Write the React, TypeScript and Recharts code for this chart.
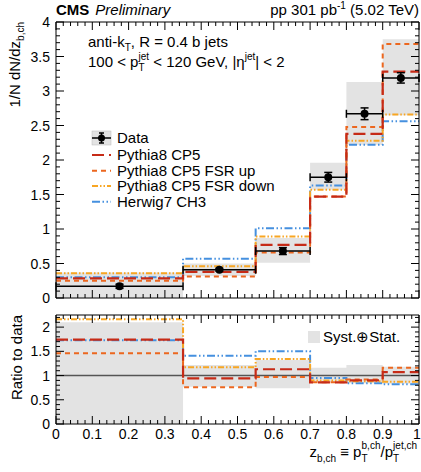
import React from 'react';
import { ComposedChart, Line, Area, Scatter, XAxis, YAxis, ErrorBar, ReferenceLine } from 'recharts';

// ---------- data ----------
const binEdges = [0, 0.35, 0.55, 0.7, 0.8, 0.9, 1.0];
const dataValues = [0.17, 0.41, 0.68, 1.75, 2.67, 3.19];
const dataStatErr = [0.03, 0.02, 0.05, 0.07, 0.085, 0.075];
const systLow = [0.0, 0.32, 0.51, 1.57, 2.22, 2.65];
const systHigh = [0.37, 0.5, 0.87, 1.96, 3.13, 3.75];
const pythiaCP5 = [0.285, 0.38, 0.77, 1.47, 2.38, 3.28];
const fsrUp = [0.25, 0.31, 0.66, 1.47, 2.48, 3.68];
const fsrDown = [0.36, 0.46, 0.89, 1.57, 2.28, 2.66];
const herwigCH3 = [0.3, 0.57, 1.01, 1.63, 2.22, 2.56];

const ratioSystLow = [0, 0.77, 0.74, 0.87, 0.84, 0.83];
const ratioSystHigh = [2.1, 1.22, 1.32, 1.16, 1.22, 1.18];
const ratioPythia = [1.74, 0.94, 1.13, 0.86, 0.9, 1.07];
const ratioFsrUp = [1.46, 0.76, 0.97, 0.86, 0.92, 1.16];
const ratioFsrDown = [2.16, 1.17, 1.34, 0.9, 0.88, 0.87];
const ratioHerwig = [1.73, 1.41, 1.5, 0.95, 0.84, 0.82];

const xTickLabels = ['0', '0.1', '0.2', '0.3', '0.4', '0.5', '0.6', '0.7', '0.8', '0.9', '1'];
const yTickLabels = ['0', '0.5', '1', '1.5', '2', '2.5', '3', '3.5', '4'];
const ratioTickLabels = ['0', '0.5', '1', '1.5', '2'];

// ---------- geometry / styles ----------
const W = 421;
const PL = 56; // plot left
const PR = 419; // plot right
const TT = 22; // top panel top
const TB = 298; // top panel bottom
const TOP_H = 312;
const RT = 315; // ratio panel top
const RB = 424; // ratio panel bottom
const R_OFF = 300;
const TOP_DOM = [0, 4];
const R_DOM = [0, 2.25];

const FONT = 'Liberation Sans, Arial, Helvetica, sans-serif';
const C_PY = '#c62b17';
const C_UP = '#ec671f';
const C_DN = '#f8a623';
const C_HW = '#4590df';
const C_BAND = '#e3e3e3';
const D_PY = '12 5';
const D_UP = '5 4';
const D_DN = '6 2 1.5 2 1.5 2';
const D_HW = '8 2.5 1.5 2.5 1.5 2.5';

// ---------- tables ----------
const last = binEdges.length - 2;
const histTop = binEdges.map((x, i) => {
  const k = Math.min(i, last);
  return { x, band: [systLow[k], systHigh[k]], py: pythiaCP5[k], up: fsrUp[k], dn: fsrDown[k], hw: herwigCH3[k] };
});
const histRatio = binEdges.map((x, i) => {
  const k = Math.min(i, last);
  return { x, band: [ratioSystLow[k], ratioSystHigh[k]], py: ratioPythia[k], up: ratioFsrUp[k], dn: ratioFsrDown[k], hw: ratioHerwig[k] };
});
const points = dataValues.map((y, i) => ({
  x: (binEdges[i] + binEdges[i + 1]) / 2,
  y,
  ex: (binEdges[i + 1] - binEdges[i]) / 2,
  ey: dataStatErr[i],
}));

const mk = (n: number, step: number) => {
  const a: number[] = [];
  for (let i = 0; i <= n; i++) a.push(Math.round(i * step * 1000) / 1000);
  return a;
};
const xMinor = mk(50, 0.02);
const xMajor = xTickLabels.map(Number);
const yMinor = mk(40, 0.1);
const yMajor = yTickLabels.map(Number);
const rMinor = mk(22, 0.1);
const rMajor = ratioTickLabels.map(Number);
const isMul = (v: number, s: number) => Math.abs(v / s - Math.round(v / s)) < 1e-6;

const MAJ = 8;
const MIN = 4;

const labelTick = (side: 'bottom' | 'left', labels: string[]) => (props: any) => {
  const x = Number(props.x);
  const y = Number(props.y);
  const v = Number(props.payload.value);
  const l = labels.find((s) => Math.abs(parseFloat(s) - v) < 1e-6);
  if (l === undefined) return <g />;
  if (side === 'bottom')
    return (
      <text x={v === 1 ? x - 2 : x} y={y + 15} textAnchor="middle" fontSize={14} fontFamily={FONT} fill="#000">
        {l}
      </text>
    );
  return (
    <text x={x - 6} y={y + 5} textAnchor="end" fontSize={14} fontFamily={FONT} fill="#000">
      {l}
    </text>
  );
};

// inward tick marks on all four sides of a panel frame (same linear mapping as the axes)
const frameTickPath = (top: number, bottom: number, yDom: number[], yTicks: number[], yStep: number) => {
  const sx = (v: number) => PL + v * (PR - PL);
  const sy = (v: number) => bottom - ((v - yDom[0]) / (yDom[1] - yDom[0])) * (bottom - top);
  let d = '';
  xMinor.forEach((v) => {
    const len = isMul(v, 0.1) ? MAJ : MIN;
    const x = sx(v);
    d += `M${x},${bottom}V${bottom - len}M${x},${top}V${top + len}`;
  });
  yTicks.forEach((v) => {
    const len = isMul(v, yStep) ? MAJ : MIN;
    const y = sy(v);
    d += `M${PL},${y}H${PL + len}M${PR},${y}H${PR - len}`;
  });
  return d;
};

const al = { stroke: '#000', strokeWidth: 1 };
const frameAxes = (yDomain: number[]) => (
  <>
    <XAxis xAxisId="tFrame" orientation="top" mirror type="number" dataKey="x" domain={[0, 1]} ticks={[0, 1]} tick={false} tickLine={false} axisLine={al} height={10} allowDataOverflow />
    <YAxis yAxisId="rFrame" orientation="right" mirror type="number" domain={yDomain} ticks={yDomain} tick={false} tickLine={false} axisLine={al} width={10} allowDataOverflow />
  </>
);

const seriesLines = (
  <>
    <Line dataKey="hw" type="stepAfter" stroke={C_HW} strokeWidth={2} strokeDasharray={D_HW} dot={false} activeDot={false} isAnimationActive={false} />
    <Line dataKey="dn" type="stepAfter" stroke={C_DN} strokeWidth={2} strokeDasharray={D_DN} dot={false} activeDot={false} isAnimationActive={false} />
    <Line dataKey="up" type="stepAfter" stroke={C_UP} strokeWidth={2} strokeDasharray={D_UP} dot={false} activeDot={false} isAnimationActive={false} />
    <Line dataKey="py" type="stepAfter" stroke={C_PY} strokeWidth={2.2} strokeDasharray={D_PY} dot={false} activeDot={false} isAnimationActive={false} />
  </>
);

const LegendLine = ({ y, color, dash, label }: { y: number; color: string; dash: string; label: string }) => (
  <g>
    <line x1={92} x2={111} y1={y} y2={y} stroke={color} strokeWidth={2} strokeDasharray={dash} />
    <text x={117} y={y + 5} fontSize={15} fontFamily={FONT} fill="#000">
      {label}
    </text>
  </g>
);

export default function App() {
  return (
    <div style={{ position: 'absolute', left: 0, top: 0, width: W, height: 472, background: '#fff', fontFamily: FONT }}>
      <div style={{ position: 'absolute', left: 0, top: 0 }}>
        <ComposedChart width={W} height={TOP_H} data={histTop} margin={{ top: TT, right: W - PR, bottom: 0, left: 0 }}>
          <XAxis dataKey="x" type="number" domain={[0, 1]} ticks={xMajor} interval={0} height={TOP_H - TB} tickSize={0} tickMargin={0} tickLine={false} axisLine={al} tick={() => <g />} allowDataOverflow />
          <YAxis type="number" domain={TOP_DOM} ticks={yMajor} interval={0} width={PL} tickSize={0} tickMargin={0} tickLine={false} axisLine={al} tick={labelTick('left', yTickLabels)} allowDataOverflow />
          {frameAxes(TOP_DOM)}
          <Area dataKey="band" type="stepAfter" fill={C_BAND} fillOpacity={1} stroke="none" isAnimationActive={false} activeDot={false} />
          {seriesLines}
          <Scatter data={points} dataKey="y" fill="#000" isAnimationActive={false} shape={(p: any) => <circle cx={p.cx} cy={p.cy} r={4} fill="#000" />}>
            <ErrorBar dataKey="ex" direction="x" width={4} stroke="#000" strokeWidth={1.5} />
            <ErrorBar dataKey="ey" direction="y" width={4} stroke="#000" strokeWidth={1.5} />
          </Scatter>
        </ComposedChart>
      </div>
      <div style={{ position: 'absolute', left: 0, top: R_OFF }}>
        <ComposedChart width={W} height={472 - R_OFF} data={histRatio} margin={{ top: RT - R_OFF, right: W - PR, bottom: 0, left: 0 }}>
          <XAxis dataKey="x" type="number" domain={[0, 1]} ticks={xMajor} interval={0} height={472 - RB} tickSize={0} tickMargin={0} tickLine={false} axisLine={al} tick={labelTick('bottom', xTickLabels)} allowDataOverflow />
          <YAxis type="number" domain={R_DOM} ticks={rMajor} interval={0} width={PL} tickSize={0} tickMargin={0} tickLine={false} axisLine={al} tick={labelTick('left', ratioTickLabels)} allowDataOverflow />
          {frameAxes(R_DOM)}
          <Area dataKey="band" type="stepAfter" fill={C_BAND} fillOpacity={1} stroke="none" isAnimationActive={false} activeDot={false} />
          <ReferenceLine y={1} stroke="#555" strokeWidth={1.5} />
          {seriesLines}
        </ComposedChart>
      </div>
      <svg width={W} height={472} style={{ position: 'absolute', left: 0, top: 0, pointerEvents: 'none' }}>
        {/* frame tick marks */}
        <path d={frameTickPath(TT, TB, TOP_DOM, yMinor, 0.5)} stroke="#000" strokeWidth={1} fill="none" />
        <path d={frameTickPath(RT, RB, R_DOM, rMinor, 0.5)} stroke="#000" strokeWidth={1} fill="none" />
        <text x={56} y={15} fontSize={15} fontFamily={FONT} fill="#000">
          <tspan fontWeight="bold">CMS</tspan>
          <tspan fontStyle="italic" dx={6}>Preliminary</tspan>
        </text>
        <text x={419} y={15} fontSize={15} fontFamily={FONT} fill="#000" textAnchor="end">
          pp 301 pb<tspan dy={-6} fontSize={10}>-1</tspan>
          <tspan dy={6}> (5.02 TeV)</tspan>
        </text>
        <text x={88} y={47} fontSize={15} fontFamily={FONT} fill="#000">
          anti-k<tspan dy={4} fontSize={10}>T</tspan>
          <tspan dy={-4}>, R = 0.4 b jets</tspan>
        </text>
        <text x={88} y={67} fontSize={15} fontFamily={FONT} fill="#000">
          100 &lt; p<tspan dy={4} fontSize={10}>T</tspan>
          <tspan dx={-6} dy={-11} fontSize={10}>jet</tspan>
          <tspan dy={7}> &lt; 120 GeV, |η</tspan>
          <tspan dy={-7} fontSize={10}>jet</tspan>
          <tspan dy={7}>| &lt; 2</tspan>
        </text>
        {/* legend */}
        <g>
          <rect x={92} y={131} width={19} height={14} fill={C_BAND} stroke="#bbb" strokeWidth={0.5} />
          <line x1={92} x2={111} y1={138} y2={138} stroke="#000" strokeWidth={1.5} />
          <line x1={101.5} x2={101.5} y1={133} y2={143} stroke="#000" strokeWidth={1.5} />
          <line x1={99} x2={104} y1={133} y2={133} stroke="#000" strokeWidth={1.5} />
          <line x1={99} x2={104} y1={143} y2={143} stroke="#000" strokeWidth={1.5} />
          <circle cx={101.5} cy={138} r={3.5} fill="#000" />
          <text x={117} y={143} fontSize={15} fontFamily={FONT} fill="#000">Data</text>
        </g>
        <LegendLine y={155} color={C_PY} dash={D_PY} label="Pythia8 CP5" />
        <LegendLine y={170.7} color={C_UP} dash={D_UP} label="Pythia8 CP5 FSR up" />
        <LegendLine y={186} color={C_DN} dash={D_DN} label="Pythia8 CP5 FSR down" />
        <LegendLine y={201.7} color={C_HW} dash={D_HW} label="Herwig7 CH3" />
        <rect x={308} y={331} width={12} height={12} fill={C_BAND} />
        <text x={323} y={342} fontSize={15} fontFamily={FONT} fill="#000">Syst.⊕Stat.</text>
        {/* axis titles */}
        <text transform="translate(20,22) rotate(-90)" textAnchor="end" fontSize={15} fontFamily={FONT} fill="#000">
          1/N dN/dz<tspan dy={4} fontSize={10}>b,ch</tspan>
        </text>
        <text transform="translate(22,315) rotate(-90)" textAnchor="end" fontSize={15} fontFamily={FONT} fill="#000">
          Ratio to data
        </text>
        <text x={417} y={457} textAnchor="end" fontSize={15} fontFamily={FONT} fill="#000">
          z<tspan dy={5} fontSize={10}>b,ch</tspan>
          <tspan dy={-5}> ≡ p</tspan>
          <tspan dy={5} fontSize={10}>T</tspan>
          <tspan dx={-6} dy={-13} fontSize={10}>b,ch</tspan>
          <tspan dy={8}>/p</tspan>
          <tspan dy={5} fontSize={10}>T</tspan>
          <tspan dx={-6} dy={-13} fontSize={10}>jet,ch</tspan>
        </text>
      </svg>
    </div>
  );
}
